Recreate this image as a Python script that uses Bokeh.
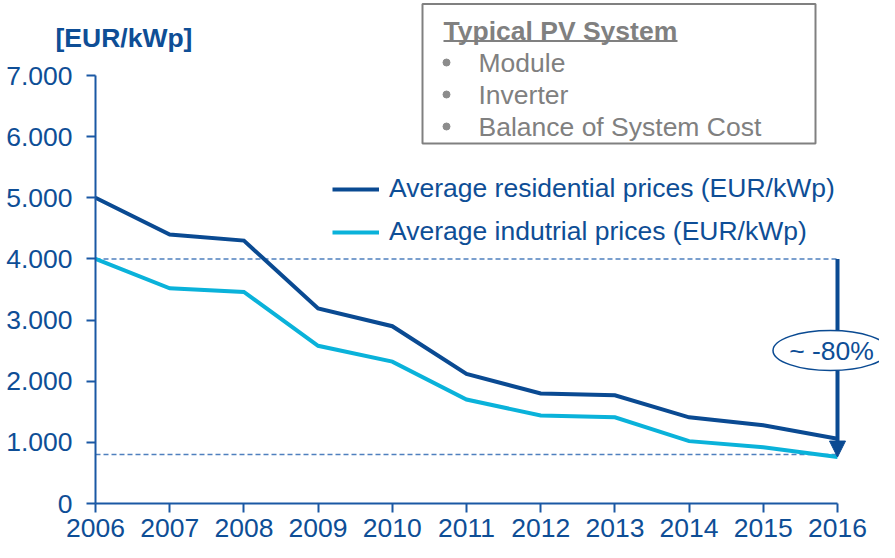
from bokeh.plotting import figure
from bokeh.models import Range1d, FixedTicker, Label, Legend, LegendItem, Arrow, NormalHead
from bokeh.embed import file_html
from bokeh.resources import INLINE

# ---- data ----
years = [2006, 2007, 2008, 2009, 2010, 2011, 2012, 2013, 2014, 2015, 2016]
residential = [5000, 4400, 4300, 3190, 2900, 2120, 1800, 1770, 1410, 1280, 1060]
industrial = [4000, 3520, 3460, 2580, 2320, 1700, 1440, 1410, 1020, 920, 760]
y_ticks = [0, 1000, 2000, 3000, 4000, 5000, 6000, 7000]
y_tick_labels = ["0", "1.000", "2.000", "3.000", "4.000", "5.000", "6.000", "7.000"]
box_title = "Typical PV System"
box_items = ["Module", "Inverter", "Balance of System Cost"]
reduction = 0.8

DARK = "#0A4A92"
CYAN = "#0AB2DA"
TXT = "#0E4E96"
AX = "#1A58A4"
GRAY = "#808080"
FONT = "Liberation Sans"
FS = "26.5px"

# pixel helpers for decorations (figure px -> data)
X_PX0, PX_YEAR = 95.0, 74.2
Y_PX0, PX_UNIT = 503.0, 61.14 / 1000.0
def dx(px):
    return years[0] + (px - X_PX0) / PX_YEAR
def dy(py):
    return (Y_PX0 - py) / PX_UNIT

W, H = 879, 542
p = figure(width=W, height=H, output_backend="svg", toolbar_location=None,
           x_range=Range1d(dx(0), dx(W)), y_range=Range1d(dy(H), dy(0)),
           min_border_left=0, min_border_right=0, min_border_top=0, min_border_bottom=0)
p.outline_line_color = None
p.xgrid.visible = False
p.ygrid.visible = False
p.background_fill_color = "white"
p.border_fill_color = "white"

for ax in (p.xaxis[0], p.yaxis[0]):
    ax.axis_line_color = AX
    ax.axis_line_width = 2
    ax.major_tick_line_color = AX
    ax.major_tick_line_width = 2
    ax.major_tick_in = 0
    ax.major_tick_out = 9
    ax.minor_tick_line_color = None
    ax.major_label_text_font = FONT
    ax.major_label_text_font_size = FS
    ax.major_label_text_color = TXT

p.xaxis[0].ticker = FixedTicker(ticks=years)
p.xaxis[0].bounds = (years[0], years[-1])
p.xaxis[0].fixed_location = y_ticks[0]
p.xaxis[0].major_label_standoff = 6
p.yaxis[0].ticker = FixedTicker(ticks=y_ticks)
p.yaxis[0].bounds = (y_ticks[0], y_ticks[-1])
p.yaxis[0].fixed_location = years[0]
p.yaxis[0].major_label_overrides = {t: l for t, l in zip(y_ticks, y_tick_labels)}
p.yaxis[0].major_label_standoff = 14

# dashed reference lines
top_ref = industrial[0]
low_ref = industrial[0] * (1 - reduction)
p.segment(x0=[years[0], years[0]], y0=[top_ref, low_ref], x1=[years[-1], years[-1]],
          y1=[top_ref, low_ref], line_color="#4F80BE", line_width=1.5, line_dash="5 3")

r1 = p.line(years, residential, line_color=DARK, line_width=4, line_join="miter")
r2 = p.line(years, industrial, line_color=CYAN, line_width=4, line_join="miter")

legend = Legend(items=[LegendItem(label="Average residential prices (EUR/kWp)", renderers=[r1]),
                       LegendItem(label="Average indutrial prices (EUR/kWp)", renderers=[r2])],
                location=(332, 295), glyph_width=47, glyph_height=30, label_height=30,
                label_standoff=10, spacing=12, padding=0, margin=0,
                border_line_alpha=0, background_fill_alpha=0,
                label_text_font=FONT, label_text_font_size=FS, label_text_color=TXT)
p.add_layout(legend)

# arrow + ellipse
p.add_layout(Arrow(x_start=years[-1], y_start=top_ref, x_end=years[-1], y_end=industrial[-1],
                   line_color=DARK, line_width=4,
                   end=NormalHead(size=16, fill_color=DARK, line_color=DARK)))
ell = p.ellipse(x=[dx(830)], y=[dy(350)], width=115, height=40, width_units="screen",
                height_units="screen", fill_color="white", line_color=DARK, line_width=1.5)
ell.level = "overlay"
p.add_layout(Label(x=dx(831), y=dy(350), text="~ -80%", text_align="center",
                   text_baseline="middle", text_font=FONT, text_font_size=FS,
                   text_color=TXT, level="overlay"))

# info box
p.quad(left=[dx(422)], right=[dx(815)], bottom=[dy(143)], top=[dy(3.5)],
       fill_color="white", line_color=GRAY, line_width=2)
p.add_layout(Label(x=dx(443), y=dy(30), text=box_title, text_baseline="middle",
                   text_font=FONT, text_font_size=FS, text_font_style="bold",
                   text_color=GRAY))
p.segment(x0=[dx(443)], y0=[dy(40.5)], x1=[dx(677)], y1=[dy(40.5)], line_color=GRAY, line_width=2)
rows = [62, 94, 126]
p.scatter(x=[dx(446)] * 3, y=[dy(r) for r in rows], size=7, color="#8C8C8C")
for txt, r in zip(box_items, rows):
    p.add_layout(Label(x=dx(478), y=dy(r), text=txt, text_baseline="middle",
                       text_font=FONT, text_font_size=FS, text_color=GRAY))

# axis unit label
p.add_layout(Label(x=dx(55), y=dy(37), text="[EUR/kWp]", text_baseline="middle",
                   text_font=FONT, text_font_size=FS, text_font_style="bold",
                   text_color=TXT))

open("out.html", "w").write(file_html(p, INLINE))
